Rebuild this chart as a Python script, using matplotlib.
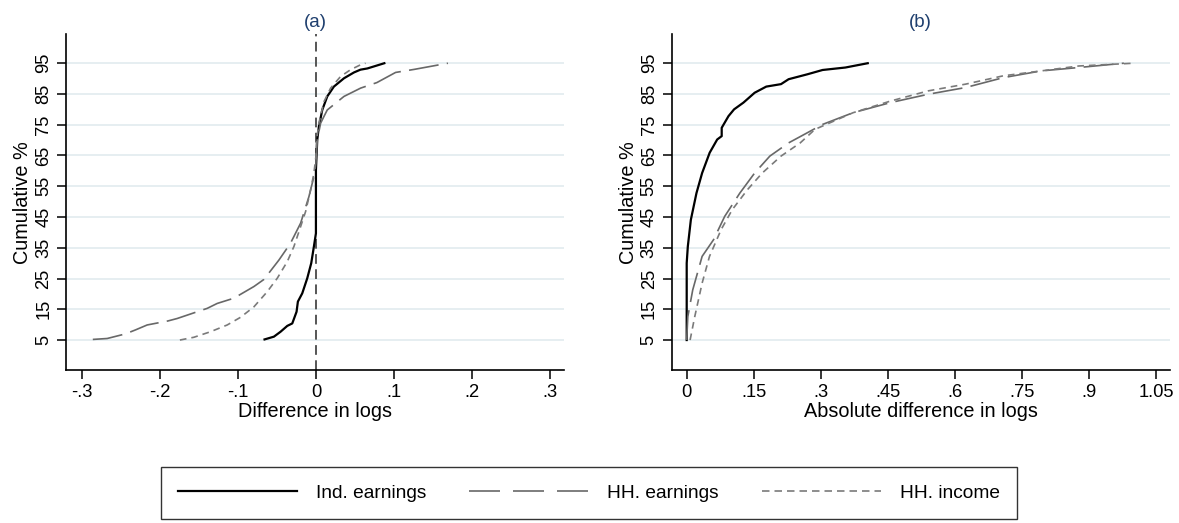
from matplotlib.figure import Figure
from matplotlib import rcParams
from matplotlib.lines import Line2D

rcParams["font.family"] = ["Liberation Sans", "DejaVu Sans"]

# Panel (a): difference in logs (x) at cumulative % (y)
ind_a_x = [-0.0658, -0.0538, -0.0453, -0.0367, -0.0303, -0.0248, -0.0231, -0.0175, -0.0111,
           -0.006, -0.0026, 0.0, 0.0, 0.0017, 0.0038, 0.0081, 0.0145, 0.023, 0.0359, 0.0487,
           0.057, 0.0659, 0.0876]
ind_a_y = [5.2, 6.1, 7.7, 9.6, 10.4, 14.2, 17.5, 20.2, 25.1,
           30, 35.4, 39.7, 60.3, 70.1, 74.4, 79.8, 84.2, 87.4, 90.1, 92,
           92.9, 93.3, 95]

hhe_a_x = [-0.2857, -0.2673, -0.2439, -0.231, -0.2161, -0.1896, -0.1777, -0.1392, -0.1264,
           -0.1051, -0.0794, -0.0666, -0.0474, -0.0325, -0.0196, -0.009, -0.0026, 0.0, 0.0017,
           0.006, 0.0103, 0.0145, 0.0359, 0.0572, 0.078, 0.102, 0.126, 0.169]
hhe_a_y = [5.2, 5.5, 7, 8.3, 9.9, 11.2, 12, 15.3, 16.9,
           18.6, 22.4, 24.7, 31, 36.5, 43, 51.6, 58.1, 62.5, 70.1,
           75.5, 77.7, 79.8, 84.2, 86.9, 88.7, 92, 93, 95]

hhi_a_x = [-0.1742, -0.1563, -0.135, -0.1136, -0.0965, -0.0794, -0.0624, -0.0495, -0.0367,
           -0.0282, -0.0218, -0.0132, -0.0068, -0.0026, 0.0, 0.0009, 0.0038, 0.0103, 0.0188,
           0.0316, 0.0444, 0.0572, 0.0635]
hhi_a_y = [5, 5.9, 7.7, 9.9, 12.4, 15.8, 20.7, 25.1, 30.5,
           35.4, 40.2, 46.8, 53.8, 59.2, 64.7, 70.1, 75.5, 82.5, 86.9,
           90.7, 92.9, 94.5, 95]

# Panel (b): absolute difference in logs
ind_b_x = [0.0, 0.0, 0.0025, 0.0093, 0.0219, 0.0345, 0.0514, 0.0682, 0.0783, 0.0783, 0.0935,
           0.106, 0.127, 0.152, 0.178, 0.211, 0.228, 0.270, 0.304, 0.355, 0.405]
ind_b_y = [5, 30, 35.4, 44.1, 52.8, 59.3, 65.9, 70.2, 71.3, 74, 77.8,
           80, 82.2, 85.4, 87.4, 88.2, 89.8, 91.4, 92.8, 93.6, 95]

hhe_b_x = [0.0, 0.0025, 0.0135, 0.0345, 0.06, 0.085, 0.119, 0.152, 0.186, 0.228, 0.270,
           0.304, 0.372, 0.456, 0.54, 0.624, 0.708, 0.793, 0.877, 0.978]
hhe_b_y = [5, 12.6, 21.3, 32.2, 37.6, 45.2, 52.8, 59.3, 64.8, 69.1, 72.4,
           75.1, 78.9, 82.2, 84.9, 87.1, 90.3, 92.5, 93.6, 95]

hhi_b_x = [0.0076, 0.018, 0.0345, 0.051, 0.077, 0.102, 0.136, 0.169, 0.211, 0.254, 0.287,
           0.372, 0.456, 0.54, 0.624, 0.708, 0.793, 0.877, 1.0]
hhi_b_y = [5, 12.6, 23.5, 32.2, 40.9, 47.4, 53.9, 59.3, 64.8, 69.1, 73.5,
           78.9, 82.7, 86, 88.2, 90.9, 92.5, 94.1, 95]

series_labels = ["Ind. earnings", "HH. earnings", "HH. income"]

y_ticks = [5, 15, 25, 35, 45, 55, 65, 75, 85, 95]
a_ticks = [-0.3, -0.2, -0.1, 0.0, 0.1, 0.2, 0.3]
a_tick_labels = ["-.3", "-.2", "-.1", "0", ".1", ".2", ".3"]
b_ticks = [0.0, 0.15, 0.3, 0.45, 0.6, 0.75, 0.9, 1.05]
b_tick_labels = ["0", ".15", ".3", ".45", ".6", ".75", ".9", "1.05"]

styles = [
    dict(color="black", lw=1.6, ls="-"),
    dict(color="#686868", lw=1.2, dashes=(18, 5)),
    dict(color="#7a7a7a", lw=1.2, dashes=(4, 3)),
]
# legend keys use slightly longer gaps so the long dash fits three whole dashes
legend_styles = [
    dict(color="black", lw=1.6, ls="-"),
    dict(color="#686868", lw=1.2, dashes=(18.6, 7.8)),
    dict(color="#7a7a7a", lw=1.2, dashes=(4.5, 3)),
]

title_color = "#1f3f6e"
grid_color = "#e6eef1"


def style_axes(ax, title, xlabel, ticks, tick_labels, xlim):
    ax.set_xlim(*xlim)
    ax.set_ylim(-4.9, 104.5)
    ax.set_xticks(ticks)
    ax.set_xticklabels(tick_labels)
    ax.set_yticks(y_ticks)
    ax.set_yticklabels([str(t) for t in y_ticks], rotation=90, va="center")
    ax.tick_params(direction="out", length=6.5, width=1.1, labelsize=13.2, color="black")
    ax.tick_params(axis="x", pad=3)
    ax.tick_params(axis="y", pad=3.5)
    ax.yaxis.grid(True, color=grid_color, lw=1.4)
    ax.set_axisbelow(True)
    for side in ["top", "right"]:
        ax.spines[side].set_visible(False)
    for side in ["left", "bottom"]:
        ax.spines[side].set_linewidth(1.2)
    ax.set_xlabel(xlabel, fontsize=14.3, labelpad=1)
    ax.set_ylabel("Cumulative %", fontsize=14.3, labelpad=2)
    ax.set_title(title, color=title_color, fontsize=13.5, pad=5)


# Creates figure
fig = Figure(figsize=(11.79, 5.23), dpi=100)
fig.patch.set_facecolor("white")

ax_a = fig.add_axes([0.0560, 0.2916, 0.4226, 0.6434])
ax_b = fig.add_axes([0.5697, 0.2916, 0.4226, 0.6434])

# Panel (a)
ax_a.axvline(0, color="#555555", lw=1.4, dashes=(5, 2.8), zorder=1)
for xs, ys, st in zip([ind_a_x, hhe_a_x, hhi_a_x], [ind_a_y, hhe_a_y, hhi_a_y], styles):
    ax_a.plot(xs, ys, zorder=3, **st)
style_axes(ax_a, "(a)", "Difference in logs", a_ticks, a_tick_labels, (-0.32, 0.318))

# Panel (b)
for xs, ys, st in zip([ind_b_x, hhe_b_x, hhi_b_x], [ind_b_y, hhe_b_y, hhi_b_y], styles):
    ax_b.plot(xs, ys, zorder=3, **st)
style_axes(ax_b, "(b)", "Absolute difference in logs", b_ticks, b_tick_labels, (-0.0336, 1.081))

# Shared legend below the panels
handles = [Line2D([], [], **st) for st in legend_styles]
leg = fig.legend(handles, series_labels, ncol=3, loc="center",
                 bbox_to_anchor=(0.1366, 0.003, 0.726, 0.108), mode="expand",
                 fontsize=13.8, handlelength=6.2, handletextpad=1.0,
                 borderpad=0.9, borderaxespad=0, fancybox=False, frameon=True)
leg.get_frame().set_edgecolor("black")
leg.get_frame().set_linewidth(1.0)

fig.savefig("out.png", dpi=100, facecolor="white")
